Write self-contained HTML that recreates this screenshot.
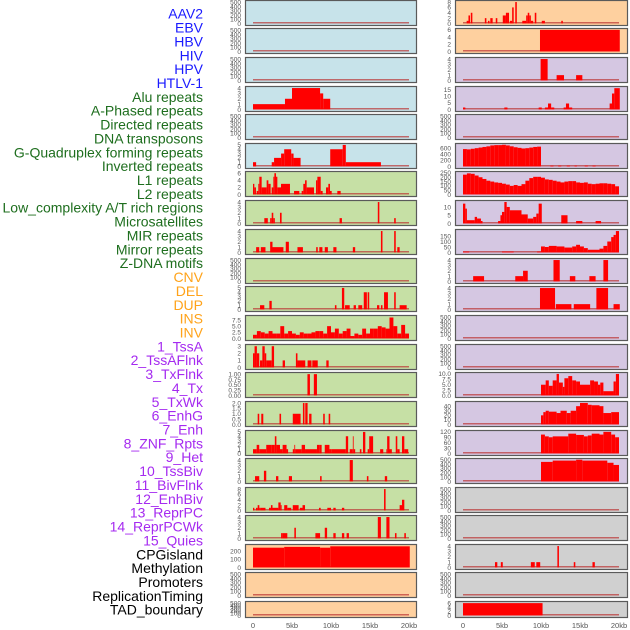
<!DOCTYPE html>
<html><head><meta charset="utf-8">
<style>
html,body{margin:0;padding:0;background:#fff;}
svg{display:block;font-family:"Liberation Sans",sans-serif;}
</style></head>
<body>
<svg id="chart" width="630" height="630" viewBox="0 0 630 630"></svg>
<script>
// ---------- data ----------
const labels = ["AAV2","EBV","HBV","HIV","HPV","HTLV-1","Alu repeats","A-Phased repeats","Directed repeats","DNA transposons","G-Quadruplex forming repeats","Inverted repeats","L1 repeats","L2 repeats","Low_complexity A/T rich regions","Microsatellites","MIR repeats","Mirror repeats","Z-DNA motifs","CNV","DEL","DUP","INS","INV","1_TssA","2_TssAFlnk","3_TxFlnk","4_Tx","5_TxWk","6_EnhG","7_Enh","8_ZNF_Rpts","9_Het","10_TssBiv","11_BivFlnk","12_EnhBiv","13_ReprPC","14_ReprPCWk","15_Quies","CPGisland","Methylation","Promoters","ReplicationTiming","TAD_boundary"];
const labelGroups = ["virus","virus","virus","virus","virus","virus","repeat","repeat","repeat","repeat","repeat","repeat","repeat","repeat","repeat","repeat","repeat","repeat","repeat","sv","sv","sv","sv","sv","chrom","chrom","chrom","chrom","chrom","chrom","chrom","chrom","chrom","chrom","chrom","chrom","chrom","chrom","chrom","other","other","other","other","other"];
const xTicks = [0,5,10,15,20];
const xTickLabels = ["0","5kb","10kb","15kb","20kb"];
const leftBg  = ["blue","blue","blue","blue","blue","blue","green","green","green","green","green","green","green","green","green","green","green","green","green","orange","orange","orange"];
const rightBg = ["orange","orange","lav","lav","lav","lav","lav","lav","lav","lav","lav","lav","lav","lav","lav","lav","lav","grey","grey","grey","grey","grey"];
const emptyTicks = [0,100,200,300,400,500];

// left column segments [startKb, endKb, value]
const L1 = [], L2 = [], L3 = [], L5 = [], L10 = [], L21 = [], L22 = [];
const L4 = [[0,4.1,1],[4.1,5,2],[5,8.6,4],[8.6,9,3],[9,9.9,2]];
const L6 = [[0,0.4,1],[2.4,2.7,1],[2.7,3.6,2],[3.6,4,3],[4,4.9,4],[4.9,5.2,3],[5.2,6.1,2],[9.9,11.5,4],[11.5,11.9,5],[11.9,16.4,1]];
const L7 = [[0,0.17,3],[0.17,0.38,2],[0.47,0.68,1],[0.68,0.81,3],[0.81,1.11,5],[1.11,1.75,2],[1.75,1.97,4],[1.97,2.26,3],[2.39,2.61,2],[2.61,2.74,5],[2.74,2.95,6],[2.95,3.12,5],[3.12,3.59,2],[3.59,4.74,3],[5.26,5.94,1],[6.24,6.45,1],[6.45,6.67,3],[6.67,6.88,4],[6.88,7.82,2],[8.08,8.25,4],[8.25,8.68,5],[8.68,8.93,1],[9.36,9.66,2],[9.66,9.87,3],[9.87,10.09,1],[10.81,11.24,1]];
const L8 = [[1.45,1.9,1],[2.2,2.4,1],[2.4,2.6,2],[2.6,2.8,1],[3.46,3.67,2],[11.1,11.4,1],[16,16.2,4],[18.1,18.3,1]];
const L9 = [[0.4,0.8,1],[1,1.6,1],[2.2,2.5,2],[2.5,3.9,1],[4.2,4.6,2],[5.7,6.4,1],[8.1,8.3,1],[8.5,8.9,1],[9.2,9.6,1],[10.3,10.7,1],[12.8,13.1,1],[16.4,16.6,4],[18.1,18.3,4],[18.5,18.8,1]];
const L11 = [[0.9,1.45,1],[2.1,2.4,2],[10.5,10.7,1],[11.4,11.7,5],[11.8,12.4,1],[12.9,13.2,1],[13.5,14,1],[14.2,14.6,4],[14.7,14.9,4],[15.9,16.2,1],[16.4,16.6,1],[16.8,17.3,4],[18.1,18.3,4],[18.8,19.7,1]];
const L12bins = [1.5,3,2.5,2,3,2,2,5,2,3, 2,1.5,2.5,2,2,2.5,3,3,2,5, 2.5,4,2,3,4,1,2,1.5,4,2, 4,4,5,4.5,4,8.5,5,2,5.5,2];
const L13 = [[0,0.2,2],[0.2,0.5,3],[0.5,0.8,2],[0.9,1.2,1],[1.2,1.5,3],[1.5,1.7,2],[1.7,2.4,1],[2.4,2.7,3],[3.8,4.1,1],[5.5,5.7,2],[5.7,6.7,1],[7,7.5,1],[7.6,8.3,1],[9.4,9.7,1]];
const L14 = [[6.98,7.3,1],[7.8,8.2,1]];
const L15 = [[0.6,0.8,1],[1.06,1.32,1],[3.4,3.6,1],[5.1,6.1,1],[6.4,6.6,2],[6.7,7,2],[7.2,7.5,1],[9,9.2,1],[9.7,9.9,1]];
const L16 = [[0,0.47,1],[0.47,0.8,2],[0.8,1.7,1],[1.7,2.4,2],[2.4,2.8,2],[2.8,3,4],[3,3.46,2],[3.46,3.8,1],[3.8,4.3,2],[4.3,4.5,1],[5.1,5.3,1],[5.3,5.4,2],[5.4,6.24,1],[6.24,6.67,2],[6.67,8.2,1],[8.2,8.5,2],[8.5,8.8,2],[9.2,9.8,2],[9.8,10.1,1],[10.1,11.9,1],[11.9,12.2,4],[12.4,12.8,1],[12.8,12.9,4],[12.9,13.1,1],[13.7,13.9,1],[14.1,14.4,5],[14.7,14.9,1],[14.9,15.4,4],[16.3,16.7,1],[17.1,17.2,1],[17.2,17.5,4],[17.5,17.8,1],[18.3,18.5,4],[18.5,18.8,1],[19.1,19.4,4],[19.4,19.9,1]];
const L17 = [[0.26,0.8,1],[1.4,1.7,2],[2.95,3.25,1],[4.6,5,1],[8.6,8.8,1],[12.4,12.8,4],[14.6,14.8,1],[16.9,17.2,1]];
const L18 = [[0,0.17,1],[0.38,0.6,1],[0.6,0.81,2],[0.81,1,1],[1,1.6,1],[2.05,2.3,1],[2.3,2.5,2],[2.5,3.25,1],[3.25,3.55,3],[3.55,3.67,2],[4,4.4,2],[4.4,4.9,1],[5.1,5.85,2],[6,6.35,1],[6.35,6.67,2],[8.46,8.68,1],[9.53,10,1],[10.3,10.6,1],[11.4,11.7,1],[16.8,17,8],[18.8,19.1,2],[19.1,19.4,4]];
const L19 = [[3.6,3.8,1],[3.8,4.4,1],[5.3,5.5,2],[8,8.6,1],[9.2,9.5,2],[10.3,10.6,1],[11.4,11.7,1],[12,12.3,1],[16,16.4,4],[17.1,17.5,4],[18.2,18.4,1],[19.4,19.6,1]];
const L20 = [[0,4,245],[4,8.6,255],[8.6,9.9,245],[9.9,20.1,262]];

// right column
const R5 = [], R12 = [], R13 = [], R18 = [], R19 = [], R21 = [];
const R1 = [[0.47,0.7,1],[0.7,0.9,3],[1,1.2,4],[2.8,3,2],[3.2,3.4,1],[3.5,3.8,2],[4.2,4.4,2],[5.1,5.5,3],[5.5,5.7,4],[5.7,5.9,4],[6,6.3,1],[6.3,6.5,6],[6.7,6.9,8],[7.6,8.1,1],[8.1,8.3,3],[8.3,8.5,4],[8.5,8.7,3],[8.7,9,1],[9.2,9.4,4],[10.1,10.5,1],[12.6,12.8,1]];
const R2 = [[9.87,20.1,6]];
const R3 = [[9.95,10.85,4],[12,12.95,1],[14.5,15.3,1]];
const R4 = [[0,0.3,1.5],[5.3,5.7,1.5],[9.7,10.1,1.5],[10.5,10.9,1.5],[10.9,11.3,4.5],[11.3,11.7,1.5],[12.9,13.2,1.5],[13.2,13.6,4.5],[13.6,14,1.5],[18.8,19.1,4.5],[19.1,19.4,12],[19.4,20.1,16]];
const R6bins = [570,560,580,600,620,640,660,690,700,700,710,690,660,630,610,590,600,620,640,650];
const R6 = [[11.2,11.6,25],[12.2,12.6,25],[13.3,13.7,25],[14.3,14.6,25],[15.6,16,25],[16.6,17,25]];
const R7bins = [230,245,240,220,200,180,160,150,140,135,125,115,100,110,100,120,160,190,205,205, 195,175,170,160,150,140,150,155,155,140,135,140,125,120,125,130,130,125,120,95];
const R8 = [[0,0.3,12],[0.3,0.5,9],[0.5,1.5,2],[1.5,1.8,4],[1.8,2.3,3],[2.3,2.5,1.5],[4.5,4.8,1.5],[4.8,5,5],[5,5.3,7],[5.3,5.6,13],[5.6,6,10],[6,7.5,8],[7.5,8.3,5.5],[8.3,9,3],[9,9.4,4],[9.4,9.7,6],[9.7,10.1,12],[12.6,13.4,5],[14.5,15.3,1.5],[17,17.7,1.5]];
const R9 = [[0,0.8,8],[5,6.5,8],[9.5,10,8],[10,10.5,55],[10.5,11,50],[11,12,60],[12,13,55],[13,14,45],[14,14.5,55],[14.5,15,70],[15,15.5,55],[15.5,16,40],[16,17.5,25],[17.5,18,35],[18,18.5,60],[18.5,19,100],[19,19.3,140],[19.3,19.6,160],[19.6,20,195]];
const R10 = [[1.3,2.7,1],[6.7,7.7,1],[7.7,8.3,2],[11.6,12.4,4],[13.7,14.4,1],[16.2,17,1],[18,18.6,4]];
const R11 = [[9.87,11.8,4],[11.9,13.9,1],[14.2,16.3,1],[17.1,18.6,4],[19.3,20.1,1]];
const R14 = [[10,10.6,5],[10.6,11,7],[11,11.5,4.5],[11.5,12,7],[12,12.3,10],[12.3,12.8,6],[12.8,13,4],[13,13.5,8],[13.5,14,9],[14,14.5,7],[14.5,15,6.5],[15,16.3,5],[16.3,16.8,7],[16.8,17.3,6.5],[17.3,17.6,5],[17.6,18,6],[18,19.3,2],[19.3,19.6,6.5],[19.6,20,10]];
const R15 = [[10,10.3,20],[10.3,10.6,27],[10.6,11,30],[11,12,28],[12,12.5,25],[12.5,13.3,30],[13.3,13.8,25],[13.8,14.5,30],[14.5,15,40],[15,16,47],[16,16.5,43],[16.5,17.5,42],[17.5,18,40],[18,19,25],[19,20,27]];
const R16 = [[10,10.5,105],[10.5,11,95],[11,11.5,90],[11.5,13.5,95],[13.5,14.5,110],[14.5,15.5,103],[15.5,16,95],[16,16.5,100],[16.5,17.5,110],[17.5,18,105],[18,19,120],[19,19.5,105],[19.5,20,90]];
const R17 = [[10,11.5,450],[11.5,14.5,480],[14.5,15.3,500],[15.3,18.5,480],[18.5,19.3,430],[19.3,20,380]];
const R20 = [[4.1,4.4,1],[4.85,5.1,1],[8.7,9.2,1],[9.4,9.9,1],[12.1,12.3,4],[14.2,14.4,1],[16.6,16.9,1]];
const R22 = [[0,10.2,6]];

function binsToSegs(bins, width, start){ return bins.map((v,i)=>[start+i*width, start+(i+1)*width, v]); }

const leftPanels = [
 [L1,520,emptyTicks],[L2,520,emptyTicks],[L3,520,emptyTicks],[L4,4.1,[0,1,2,3,4]],[L5,520,emptyTicks],
 [L6,5.1,[0,1,2,3,4,5]],[L7,6.2,[0,2,4,6]],[L8,4.1,[0,1,2,3,4]],[L9,4.1,[0,1,2,3,4]],[L10,520,emptyTicks],
 [L11,5.1,[0,1,2,3,4,5]],[binsToSegs(L12bins,0.5,0),8.9,[0,2.5,5,7.5]],[L13,3.1,[0,1,2,3]],[L14,1.03,[0,0.25,0.5,0.75,1]],
 [L15,2.05,[0,0.5,1,1.5,2]],[L16,5.1,[0,1,2,3,4,5]],[L17,4.1,[0,1,2,3,4]],[L18,8.2,[0,2,4,6,8]],[L19,4.1,[0,1,2,3,4]],
 [L20,272,[0,100,200]],[L21,520,emptyTicks],[L22,520,emptyTicks]
];
const rightPanels = [
 [R1,8.2,[0,2,4,6,8]],[R2,6.1,[0,2,4,6]],[R3,4.1,[0,1,2,3,4]],[R4,16.5,[0,5,10,15]],[R5,520,emptyTicks],
 [binsToSegs(R6bins,0.5,0).concat(R6),720,[0,200,400,600]],[binsToSegs(R7bins,0.5,0),255,[0,50,100,150,200,250]],
 [R8,13.3,[0,5,10]],[R9,200,[0,50,100,150]],[R10,4.1,[0,1,2,3,4]],[R11,4.1,[0,1,2,3,4]],[R12,520,emptyTicks],[R13,520,emptyTicks],
 [R14,10.2,[0,2.5,5,7.5,10]],[R15,48,[0,10,20,30,40]],[R16,122,[0,30,60,90,120]],[R17,505,[0,100,200,300,400,500]],
 [R18,520,emptyTicks],[R19,520,emptyTicks],[R20,4.1,[0,1,2,3,4]],[R21,520,emptyTicks],[R22,6.3,[0,2,4,6]]
];

// ---------- layout ----------
const NS = "http://www.w3.org/2000/svg";
const svg = document.getElementById("chart");
const rowTops = [0,28,57,86,114,143,171,200,229,258,286,315,344,372,401,430,458,487,515,544,572,601];
const rowH = i => (i === 21 ? 16 : 25);
const cols = [{x:245,w:171,x0:253},{x:455,w:172,x0:463}];
const pxPerKb = 7.8;
const bgColors = {blue:"#c7e3ea",green:"#c6e0a5",orange:"#fed09f",lav:"#d5c7e2",grey:"#d0d0d0"};
const groupColors = {virus:"#1a1aff",repeat:"#1e6e1e",sv:"#ffa31a",chrom:"#a52af0",other:"#000"};

function el(tag, attrs, parent){
  const e = document.createElementNS(NS, tag);
  for (const k in attrs) e.setAttribute(k, attrs[k]);
  (parent||svg).appendChild(e);
  return e;
}
function fmt(t, ticks){
  const step = ticks.length>1 ? ticks[1]-ticks[0] : 1;
  if (step === 0.25) return t.toFixed(2);
  if (step % 1 !== 0 || (ticks.some(v=>v%1!==0))) return t.toFixed(1);
  return String(t);
}

const labelStep = 596/43;
labels.forEach((txt,i)=>{
  const t = el("text",{x:203,y:15+i*labelStep,"text-anchor":"end","dominant-baseline":"middle","font-size":"14",fill:groupColors[labelGroups[i]]});
  
  
  t.textContent = txt;
});

function drawPanel(col, row, panel, bg, side){
  const [segs, ymax, ticks] = panel;
  const top = rowTops[row], h = rowH(row);
  const g = el("g",{});
  
  
  el("rect",{x:col.x+0.5,y:top+0.5,width:col.w,height:h,fill:bgColors[bg],stroke:"#5a5a5a","stroke-width":1.2},g);
  const pad = 1.5;
  const yBase = top + h - pad;
  const yScale = v => yBase - v/ymax*(h-2*pad);
  const xScale = kb => col.x0 + kb*pxPerKb;
  el("rect",{x:xScale(0),y:yBase-1.5,width:xScale(20)-xScale(0),height:1.5,fill:"#b33",opacity:0.7},g);
  segs.forEach(s=>{
    const b = el("rect",{x:xScale(s[0]),y:yScale(s[2]),width:Math.max(0.8,xScale(s[1])-xScale(s[0])),height:yBase-yScale(s[2]),fill:"#ff0000"},g);
    
    
  });
  ticks.forEach(t=>{
    const tx = el("text",{x:col.x-4,y:yScale(t)+2.3,"text-anchor":"end","font-size":"6.5",fill:"#555"},g);
    
    
    tx.textContent = fmt(t, ticks);
  });
}
leftPanels.forEach((p,i)=>drawPanel(cols[0],i,p,leftBg[i],'left'));
rightPanels.forEach((p,i)=>drawPanel(cols[1],i,p,rightBg[i],'right'));

cols.forEach((col,ci)=>{
  xTicks.forEach((k,j)=>{
    const t = el("text",{x:col.x0+k*pxPerKb,y:628,"text-anchor":"middle","font-size":"7.5",fill:"#555"});
    
    
    t.textContent = xTickLabels[j];
  });
});
</script>
</body></html>
